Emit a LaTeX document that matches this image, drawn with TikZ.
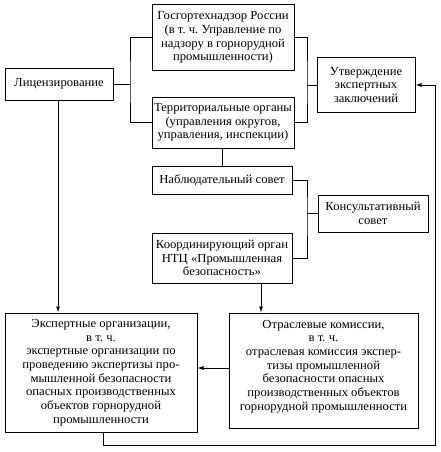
\documentclass[tikz,border=0pt]{standalone}
\usepackage{fontspec}
\setmainfont{Liberation Serif}[FakeStretch=1.03]
\usetikzlibrary{arrows.meta}
\frenchspacing
\begin{document}
\begin{tikzpicture}[x=1pt,y=-1pt,
  box/.style={draw,line width=1pt,inner sep=0pt,align=center,
    font=\fontsize{12.3}{13.7}\selectfont},
  ln/.style={line width=0.9pt},
  arr/.style={line width=0.9pt,-{Latex[length=6pt,width=4pt]}}]
\useasboundingbox (0,0) rectangle (441,452);
\node[box,minimum width=142,minimum height=65] (gos) at (223,37.5)
  {Госгортехнадзор России\\(в т. ч. Управление по\\надзору в горнорудной\\промышленности)};
\node[box,minimum width=142,minimum height=51] (terr) at (223,122.5)
  {Территориальные органы\\(управления округов,\\управления, инспекции)};
\node[box,minimum width=108,minimum height=32] (lic) at (59,84) {Лицензирование};
\node[box,minimum width=98,minimum height=54] (utv) at (366,85)
  {Утверждение\\экспертных\\заключений};
\node[box,minimum width=140,minimum height=28] (nab) at (222,180) {Наблюдательный совет};
\node[box,minimum width=110,minimum height=37] (kons) at (373,213.5)
  {Консультативный\\совет};
\node[box,minimum width=140,minimum height=50] (koord) at (222,258)
  {Координирующий орган\\НТЦ «Промышленная\\безопасность»};
\node[box,minimum width=192,minimum height=119] (exp) at (101,372.5)
  {Экспертные организации,\\в т. ч.\\экспертные организации по\\проведению экспертизы про-\\мышленной безопасности\\опасных производственных\\объектов горнорудной\\промышленности};
\node[box,minimum width=189,minimum height=115] (otr) at (323.5,370.5)
  {Отраслевые комиссии,\\в т. ч.\\отраслевая комиссия экспер-\\тизы промышленной\\безопасности опасных\\производственных объектов\\горнорудной промышленности\\[-3pt]\mbox{}};
% left bracket
\coordinate (lb) at (130,84);
\draw[ln] (gos.west) -| (lb) |- (terr.west);
\draw[ln] (lic.east) -- (lb);
% right bracket
\coordinate (rb) at (307,85);
\draw[ln] (gos.east) -| (rb) |- (terr.east);
\draw[ln] (rb) -- (utv.west);
% middle
\draw[ln] (terr.south -| nab.north) -- (nab.north);
\coordinate (mb) at (307,213.5);
\draw[ln] (nab.east) -| (mb) |- (koord.east);
\draw[ln] (mb) -- (kons.west);
% arrows
\coordinate (kd) at (261,283);
\draw[arr] (kd) -- (kd |- otr.north);
\coordinate (ld) at (58,100);
\draw[arr] (ld) -- (ld |- exp.north);
\draw[arr] (otr.west |- 0,368) -- (exp.east |- 0,368);
\coordinate (ed) at (103,432);
\coordinate (fb) at (435,445);
\draw[arr] (ed) |- (fb) |- (utv.east);
\end{tikzpicture}
\end{document}
